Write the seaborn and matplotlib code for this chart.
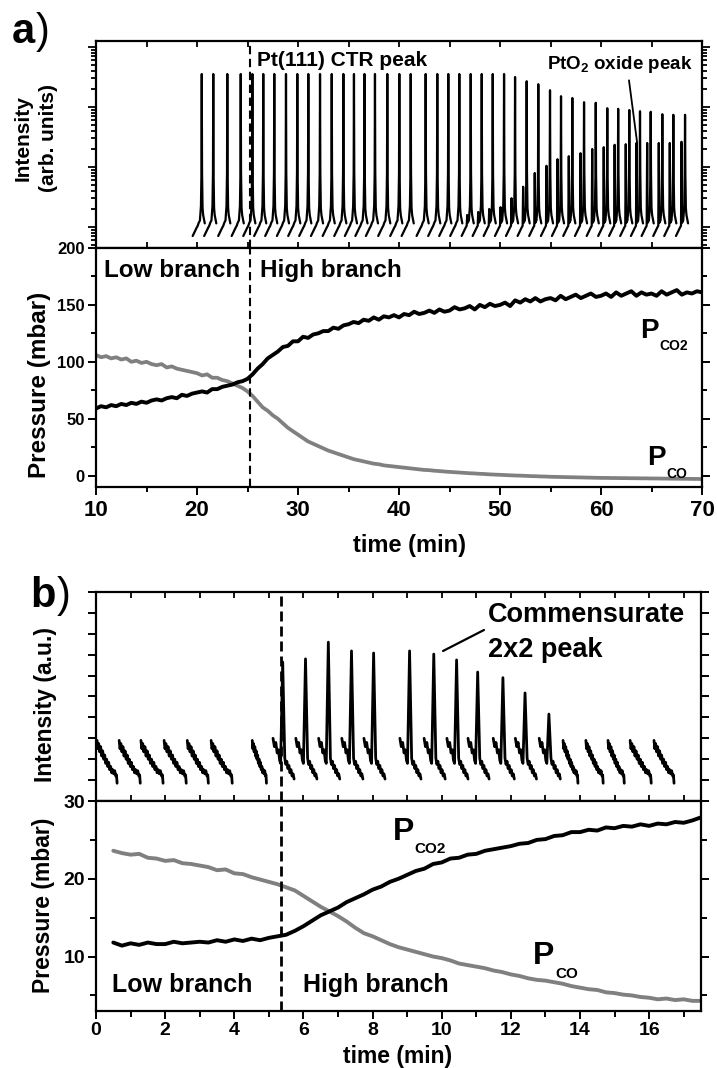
import numpy as np
import pandas as pd
import matplotlib
matplotlib.use('Agg')
import matplotlib.pyplot as plt
import seaborn as sns
from matplotlib.ticker import MultipleLocator, LogLocator, NullFormatter

# ---------------- panel a: intensity scans (log10 of intensity) ----------------
a_scan_t = [20.47, 21.61, 23.00, 24.33, 25.48, 26.56, 27.65, 28.81, 29.93, 31.02,
            32.18, 33.34, 34.49, 35.54, 36.58, 37.62, 38.84, 40.03, 41.16, 42.64,
            43.79, 44.88, 45.97, 47.10, 48.19, 49.28, 50.40, 51.49, 52.64, 53.79,
            54.95, 56.04, 57.16, 58.32, 59.48, 60.62, 61.70, 62.80, 63.86, 64.92,
            66.07, 67.16, 68.32, 69.41]
a_ctr_peak = [3.55] * 27 + [3.50, 3.43, 3.38, 3.28, 3.18, 3.15, 3.08, 3.07, 2.98,
                            2.97, 2.95, 2.93, 2.92, 2.88, 2.87, 2.87, 2.85]
a_oxide_peak = [0] * 23 + [1.20, 1.25, 1.30, 1.33, 1.48, 1.67, 1.90, 2.02, 2.13,
                           2.18, 2.23, 2.30, 2.33, 2.37, 2.38, 2.40, 2.40, 2.40,
                           2.40, 2.42]
# shape of one scan around the CTR peak (minutes, log10 intensity)
a_prof_dt = [-0.90, -0.70, -0.50, -0.40, -0.35, -0.30, -0.18, -0.08, -0.03, 0.0,
             0.03, 0.08, 0.14, 0.22, 0.30]
a_prof_log = [0.85, 0.92, 0.99, 1.02, 'ox', 1.07, 1.11, 1.35, 1.90, 'ctr',
              1.90, 1.32, 1.20, 1.13, 1.06]

# ---------------- panel a: pressures ----------------
a_co2 = [59, 61, 60, 62, 61, 63, 62, 64, 63, 65,
         64, 66, 67, 66, 68, 69, 68, 71, 70, 72,
         73, 74, 73, 76, 76, 78, 79, 80, 82, 83,
         85, 89, 94, 98, 103, 106, 109, 113, 114, 118,
         118, 122, 121, 124, 125, 127, 127, 130, 129, 132,
         133, 135, 134, 137, 136, 139, 137, 140, 139, 141,
         139, 142, 141, 144, 142, 143, 145, 143, 146, 144,
         145, 148, 146, 147, 149, 146, 150, 148, 151, 149,
         150, 152, 149, 154, 152, 155, 153, 156, 153, 155,
         156, 154, 158, 155, 157, 159, 156, 158, 160, 157,
         158, 160, 157, 161, 158, 160, 162, 158, 161, 159,
         160, 158, 162, 159, 161, 163, 159, 161, 160, 162,
         161]
a_co = [106, 104, 105, 103, 104, 102, 103, 100, 101, 99,
        100, 98, 97, 98, 95, 96, 94, 93, 92, 91,
        90, 88, 89, 86, 86, 84, 83, 81, 79, 77,
        74, 70, 65, 60, 57, 53, 50, 46, 42, 39,
        36, 33, 30, 28, 26, 24, 22, 20.5, 19, 17.5,
        16, 14.5, 13.5, 12.5, 11.5, 10.5, 10, 9, 8.5, 8,
        7.5, 7, 6.5, 6, 5.5, 5, 4.8, 4.3, 4, 3.6,
        3.3, 3, 2.7, 2.4, 2.1, 1.9, 1.6, 1.4, 1.1, 0.9,
        0.7, 0.5, 0.3, 0.1, 0, -0.2, -0.4, -0.5, -0.7, -0.8,
        -1, -1.1, -1.2, -1.3, -1.4, -1.5, -1.6, -1.7, -1.8, -1.9,
        -2, -2, -2.1, -2.1, -2.2, -2.2, -2.3, -2.3, -2.4, -2.4,
        -2.5, -2.5, -2.6, -2.6, -2.7, -2.7, -2.8, -2.8, -2.9, -2.9,
        -3]
a_time = np.linspace(10, 70, len(a_co2))

# ---------------- panel b: intensity scans ----------------
b_low_start = [0.03, 0.67, 1.30, 1.97, 2.64, 3.33, 4.52, 13.51, 14.17, 14.81, 15.45, 16.14]
b_low_end = [0.61, 1.28, 1.94, 2.61, 3.25, 3.94, 4.93, 13.94, 14.67, 15.28, 16.06, 16.72]
b_low_frac = [0, .04, .08, .13, .18, .23, .28, .33, .38, .43, .48, .53, .58, .63,
              .68, .73, .78, .83, .88, .93, .97, 1.0]
b_low_I = [2.9, 2.5, 2.75, 2.35, 2.6, 2.15, 2.4, 2.0, 2.2, 1.8, 2.0, 1.65, 1.85, 1.5,
           1.65, 1.35, 1.5, 1.3, 1.45, 1.2, 1.25, 0.85]
b_spike_t = [5.40, 6.06, 6.72, 7.39, 8.03, 9.07, 9.77, 10.43, 11.04, 11.77, 12.41, 13.10]
b_spike_I = [6.65, 6.80, 7.60, 7.18, 7.08, 7.18, 7.03, 6.75, 6.17, 5.90, 5.17, 4.16]
b_hi_dt = [-0.28, -0.24, -0.20, -0.16, -0.12, -0.09, -0.06, 0.0, 0.06, 0.09, 0.12,
           0.15, 0.18, 0.21, 0.24, 0.27, 0.30, 0.33]
b_hi_I = [3.0, 2.6, 2.8, 2.3, 2.45, 1.95, 1.8, 'peak', 2.05, 1.75, 1.9, 1.55, 1.7,
          1.35, 1.5, 1.2, 1.3, 1.05]

# ---------------- panel b: pressures ----------------
b_co2 = [11.8, 11.4, 11.7, 11.5, 11.8, 11.6, 11.6, 11.9, 11.7, 11.8,
         11.9, 11.8, 12.1, 11.9, 12.2, 12.0, 12.3, 12.1, 12.4, 12.6,
         12.8, 13.3, 13.9, 14.6, 15.3, 15.8, 16.3, 17.0, 17.5, 18.0,
         18.6, 19.0, 19.6, 20.0, 20.5, 21.0, 21.3, 21.9, 22.1, 22.6,
         22.7, 23.1, 23.2, 23.6, 23.8, 24.0, 24.2, 24.5, 24.6, 25.0,
         25.1, 25.5, 25.6, 26.0, 26.0, 26.3, 26.2, 26.6, 26.5, 26.8,
         26.7, 27.0, 26.8, 27.1, 27.0, 27.3, 27.2, 27.5, 27.9]
b_co = [23.6, 23.3, 23.1, 23.2, 22.7, 22.6, 22.3, 22.4, 22.0, 21.9,
        21.7, 21.5, 21.1, 21.2, 20.7, 20.6, 20.2, 19.9, 19.6, 19.3,
        18.9, 18.5, 17.8, 17.1, 16.4, 15.8, 15.2, 14.5, 13.7, 13.0,
        12.6, 12.1, 11.6, 11.2, 10.9, 10.6, 10.3, 10.0, 9.8, 9.5,
        9.1, 8.9, 8.7, 8.5, 8.2, 8.0, 7.7, 7.5, 7.2, 7.0,
        6.9, 6.7, 6.5, 6.2, 6.0, 5.8, 5.7, 5.4, 5.3, 5.1,
        5.0, 4.8, 4.7, 4.5, 4.6, 4.4, 4.5, 4.3, 4.3]
b_time = np.linspace(0.5, 17.5, len(b_co2))

a_switch = 25.2
b_switch = 5.36


def build_a_scans():
    rows = []
    for k, (ts, ctr, ox) in enumerate(zip(a_scan_t, a_ctr_peak, a_oxide_peak)):
        for dt, v in zip(a_prof_dt, a_prof_log):
            if v == 'ctr':
                v = ctr
            elif v == 'ox':
                v = max(ox, 1.045)
            rows.append((k, ts + dt, 10 ** v))
    return pd.DataFrame(rows, columns=['scan', 't', 'I'])


def build_b_scans():
    rows = []
    k = 0
    for s, e in zip(b_low_start, b_low_end):
        for f, v in zip(b_low_frac, b_low_I):
            rows.append((k, s + f * (e - s), v))
        k += 1
    for ts, pk in zip(b_spike_t, b_spike_I):
        for dt, v in zip(b_hi_dt, b_hi_I):
            rows.append((k, ts + dt, pk if v == 'peak' else v))
        k += 1
    return pd.DataFrame(rows, columns=['scan', 't', 'I'])


def p_label(ax, x, y, sub, size, subsize, drop):
    p = ax.text(x, y, 'P', fontsize=size, ha='left', va='baseline')
    ax.annotate(sub, xy=(1, 0), xycoords=p, xytext=(0.5, -drop),
                textcoords='offset points', fontsize=subsize, ha='left', va='baseline')


sns.set_style('ticks')
plt.rcParams['font.family'] = ['Liberation Sans', 'DejaVu Sans']
plt.rcParams['font.weight'] = 'bold'
plt.rcParams['axes.labelweight'] = 'bold'
plt.rcParams['axes.linewidth'] = 1.6
plt.rcParams['axes.edgecolor'] = 'black'
plt.rcParams['text.color'] = 'black'
plt.rcParams['axes.labelcolor'] = 'black'
plt.rcParams['xtick.color'] = 'black'
plt.rcParams['ytick.color'] = 'black'
plt.rcParams['mathtext.fontset'] = 'custom'
plt.rcParams['mathtext.rm'] = 'Liberation Sans:bold'
plt.rcParams['mathtext.it'] = 'Liberation Sans:bold'
plt.rcParams['mathtext.bf'] = 'Liberation Sans:bold'

fig = plt.figure(figsize=(7.17, 10.68), dpi=100)
ax_ai = fig.add_axes([0.1339, 0.7678, 0.8452, 0.1938])
ax_ap = fig.add_axes([0.1339, 0.5440, 0.8452, 0.2238])
ax_bi = fig.add_axes([0.1339, 0.2500, 0.8438, 0.1957])
ax_bp = fig.add_axes([0.1339, 0.0534, 0.8438, 0.1966])

# ---- panel a intensity ----
sns.lineplot(data=build_a_scans(), x='t', y='I', units='scan', estimator=None,
             sort=False, color='black', lw=1.6, ax=ax_ai, legend=False)
ax_ai.set_yscale('log')
ax_ai.set_ylim(10 ** 0.65, 10 ** 4.1)
ax_ai.set_xlim(10, 70)
ax_ai.axvline(a_switch, color='black', lw=1.5, ls=(0, (4, 2.2)))
ax_ai.yaxis.set_major_locator(LogLocator(base=10, numticks=10))
ax_ai.yaxis.set_minor_locator(LogLocator(base=10, subs=np.arange(2, 10) * 1.0, numticks=20))
ax_ai.yaxis.set_minor_formatter(NullFormatter())
ax_ai.xaxis.set_major_locator(MultipleLocator(10))
ax_ai.xaxis.set_minor_locator(MultipleLocator(5))
ax_ai.tick_params(axis='y', which='both', direction='out', left=True, right=True,
                  labelleft=False, width=1.3)
ax_ai.tick_params(axis='y', which='major', length=6)
ax_ai.tick_params(axis='y', which='minor', length=3.5)
ax_ai.tick_params(axis='x', which='both', direction='in', top=True, bottom=True,
                  labelbottom=False, width=1.3, length=4)
ax_ai.set_xlabel('')
ax_ai.set_ylabel('Intensity\n(arb. units)', fontsize=15, linespacing=1.45)
ax_ai.yaxis.set_label_coords(-0.062, 0.53)
ax_ai.text(0.266, 0.905, 'Pt(111) CTR peak', transform=ax_ai.transAxes, fontsize=15,
           ha='left', va='center')
ax_ai.text(0.745, 0.885, r'PtO$_2$ oxide peak', transform=ax_ai.transAxes, fontsize=13.5,
           ha='left', va='center')
ax_ai.annotate('', xy=(0.893, 0.507), xytext=(0.8795, 0.81), xycoords='axes fraction',
               arrowprops=dict(arrowstyle='-', lw=1.3, color='black', shrinkA=0, shrinkB=0))

# ---- panel a pressure ----
df_ap = pd.DataFrame({'t': a_time, 'CO2': a_co2, 'CO': a_co})
sns.lineplot(data=df_ap, x='t', y='CO', color='#808080', lw=2.7, ax=ax_ap)
sns.lineplot(data=df_ap, x='t', y='CO2', color='black', lw=2.8, ax=ax_ap)
ax_ap.axvline(a_switch, color='black', lw=1.5, ls=(0, (4, 2.2)))
ax_ap.set_xlim(10, 70)
ax_ap.set_ylim(-10, 200)
ax_ap.xaxis.set_major_locator(MultipleLocator(10))
ax_ap.xaxis.set_minor_locator(MultipleLocator(5))
ax_ap.yaxis.set_major_locator(MultipleLocator(50))
ax_ap.yaxis.set_minor_locator(MultipleLocator(25))
ax_ap.tick_params(which='both', direction='out', left=True, right=True, bottom=True,
                  top=False, width=1.4)
ax_ap.tick_params(which='major', length=6)
ax_ap.tick_params(which='minor', length=3.5)
ax_ap.tick_params(axis='x', labelsize=16, pad=3)
ax_ap.tick_params(axis='y', labelsize=12, pad=2)
ax_ap.set_xlabel('time (min)', fontsize=17)
ax_ap.set_ylabel('Pressure (mbar)', fontsize=17.5)
ax_ap.xaxis.set_label_coords(0.5165, -0.195)
ax_ap.yaxis.set_label_coords(-0.075, 0.427)
ax_ap.text(10.8, 180, 'Low branch', fontsize=17.5, ha='left', va='center')
ax_ap.text(26.2, 180, 'High branch', fontsize=17.5, ha='left', va='center')
p_label(ax_ap, 63.9, 121, 'CO2', 20, 10, 4.5)
p_label(ax_ap, 64.6, 9, 'CO', 20, 10, 4.5)

# ---- panel b intensity ----
sns.lineplot(data=build_b_scans(), x='t', y='I', units='scan', estimator=None,
             sort=False, color='black', lw=2.0, ax=ax_bi, legend=False)
ax_bi.axvline(b_switch, color='black', lw=2.0, ls=(0, (3.6, 1.8)))
ax_bi.set_xlim(0, 17.5)
ax_bi.set_ylim(0, 10)
ax_bi.xaxis.set_major_locator(MultipleLocator(2))
ax_bi.xaxis.set_minor_locator(MultipleLocator(1))
ax_bi.yaxis.set_major_locator(MultipleLocator(1))
ax_bi.tick_params(axis='y', which='both', direction='out', left=True, right=True,
                  labelleft=False, width=1.4, length=6)
ax_bi.tick_params(axis='x', which='both', direction='in', top=True, bottom=True,
                  labelbottom=False, width=1.3, length=4)
ax_bi.set_xlabel('')
ax_bi.set_ylabel('Intensity (a.u.)', fontsize=16.5)
ax_bi.yaxis.set_label_coords(-0.064, 0.464)
ax_bi.text(0.648, 0.8565, 'Commensurate', transform=ax_bi.transAxes, fontsize=19.5,
           ha='left', va='baseline')
ax_bi.text(0.648, 0.689, '2x2 peak', transform=ax_bi.transAxes, fontsize=19.5,
           ha='left', va='baseline')
ax_bi.annotate('', xy=(0.5736, 0.7177), xytext=(0.6413, 0.8182), xycoords='axes fraction',
               arrowprops=dict(arrowstyle='-', lw=1.6, color='black', shrinkA=0, shrinkB=0))

# ---- panel b pressure ----
df_bp = pd.DataFrame({'t': b_time, 'CO2': b_co2, 'CO': b_co})
sns.lineplot(data=df_bp, x='t', y='CO', color='#808080', lw=2.8, ax=ax_bp)
sns.lineplot(data=df_bp, x='t', y='CO2', color='black', lw=2.8, ax=ax_bp)
ax_bp.axvline(b_switch, color='black', lw=2.0, ls=(0, (3.6, 1.8)))
ax_bp.set_xlim(0, 17.5)
ax_bp.set_ylim(3, 30)
ax_bp.xaxis.set_major_locator(MultipleLocator(2))
ax_bp.xaxis.set_minor_locator(MultipleLocator(1))
ax_bp.yaxis.set_major_locator(MultipleLocator(10))
ax_bp.yaxis.set_minor_locator(MultipleLocator(5))
ax_bp.tick_params(which='both', direction='out', left=True, right=True, bottom=True,
                  top=False, width=1.4)
ax_bp.tick_params(which='major', length=6)
ax_bp.tick_params(which='minor', length=4)
ax_bp.tick_params(axis='both', labelsize=14, pad=2)
ax_bp.set_xlabel('time (min)', fontsize=16.5)
ax_bp.set_ylabel('Pressure (mbar)', fontsize=16.5)
ax_bp.xaxis.set_label_coords(0.498, -0.163)
ax_bp.yaxis.set_label_coords(-0.068, 0.505)
ax_bp.text(0.46, 6.3, 'Low branch', fontsize=18, ha='left', va='center')
ax_bp.text(6.0, 6.3, 'High branch', fontsize=18, ha='left', va='center')
p_label(ax_bp, 8.58, 25.0, 'CO2', 23, 11, 4.5)
p_label(ax_bp, 12.64, 9.0, 'CO', 23, 11, 4.5)

# panel letters
fig.text(0.0167, 1 - 43 / 1068, 'a', fontsize=30, ha='left', va='baseline')
fig.text(0.050, 1 - 43 / 1068, ')', fontsize=30, fontweight='normal', ha='left', va='baseline')
fig.text(0.0418, 1 - 607 / 1068, 'b', fontsize=30, ha='left', va='baseline')
fig.text(0.0795, 1 - 607 / 1068, ')', fontsize=30, fontweight='normal', ha='left', va='baseline')

fig.savefig('out.png', dpi=100)
